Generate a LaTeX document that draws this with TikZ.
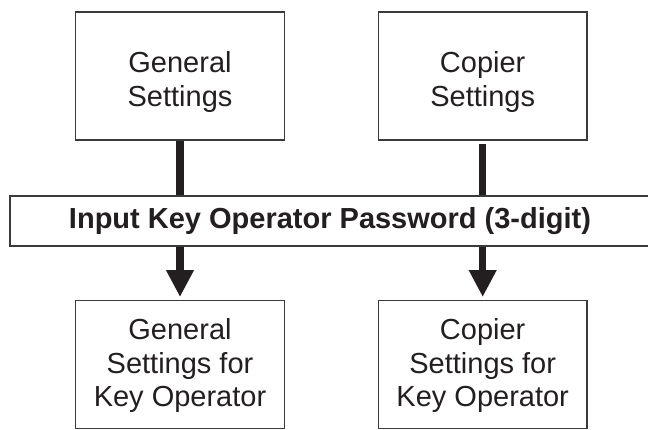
\documentclass[tikz,border=0pt]{standalone}
\usepackage{fontspec}
\setmainfont{Liberation Sans}
\usetikzlibrary{arrows.meta}
\definecolor{ink}{HTML}{231F20}
\definecolor{edge}{HTML}{3A3A3A}
\begin{document}
\begin{tikzpicture}[x=1pt,y=-1pt,
  box/.style={draw=edge, line width=1.3pt, fill=white, inner sep=0pt,
    minimum width=208.5pt, minimum height=128pt},
  lbl/.style={text=ink, inner sep=0pt, align=center,
    font=\fontsize{29}{33.6}\selectfont},
  banner/.style={draw=edge, line width=1.3pt, fill=white, inner sep=0pt,
    minimum width=640pt, minimum height=50pt, text=ink,
    font=\bfseries\fontsize{29}{33.6}\selectfont},
  conn/.style={draw=ink, line width=7.5pt},
  tip/.style={-{Triangle[width=26pt,length=27pt]}, shorten >=3pt}
]
\useasboundingbox[fill=white] (0,0) rectangle (648,429);
% boxes
\node[box] (gs)  at (180,76) {};
\node[box] (cs)  at (482.7,76) {};
\node[box, minimum height=127.6pt] (gsk) at (180,364.5) {};
\node[box, minimum height=127.6pt] (csk) at (482.7,364.5) {};
\node[banner] (pw) at (330,221) {Input Key Operator Password (3-digit)};
% labels
\node[lbl] (gst)  at (180,82) {General\\Settings};
\node[lbl] (cst)  at (482.7,82) {Copier\\Settings};
\node[lbl] (gskt) at (180,365.5) {General\\Settings for\\Key Operator};
\node[lbl] (cskt) at (482.7,365.5) {Copier\\Settings for\\Key Operator};
% connectors
\draw[conn] (gs.south) -- (gs.south |- pw.north);
\draw[conn] ([yshift=-3pt]cs.south) -- (cs.south |- pw.north);
\draw[conn, tip] (gs.south |- pw.south) -- (gsk.north);
\draw[conn, tip] (cs.south |- pw.south) -- (csk.north);
\end{tikzpicture}
\end{document}
